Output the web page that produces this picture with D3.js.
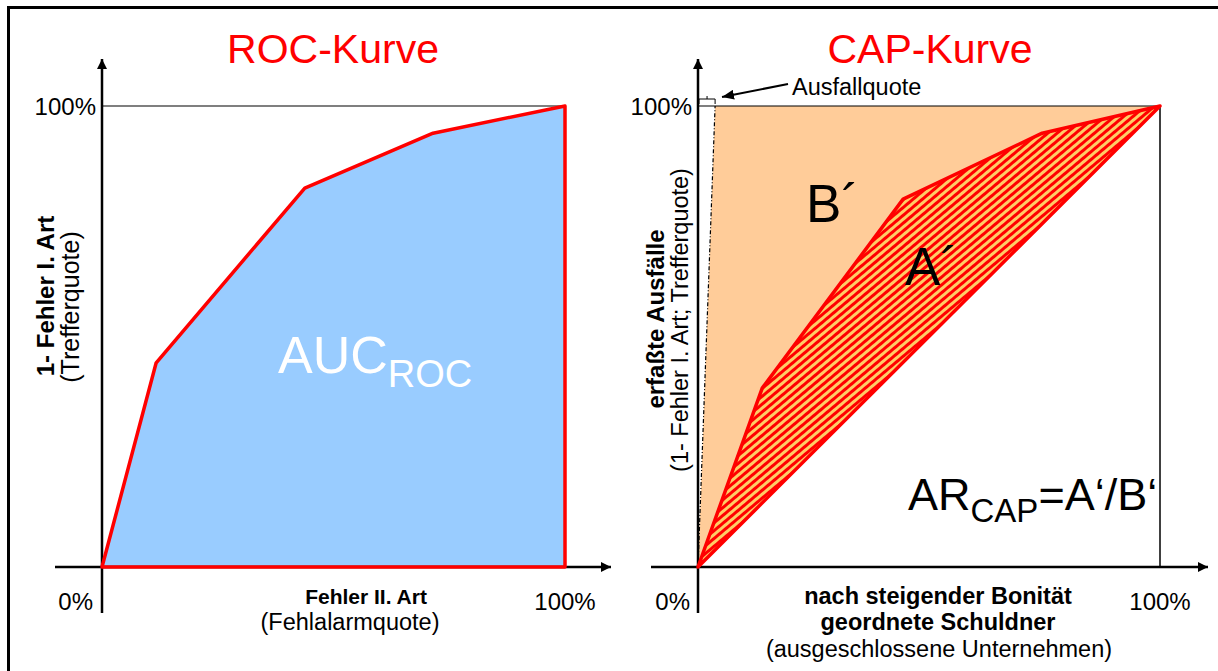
<!DOCTYPE html>
<html><head><meta charset="utf-8">
<script src="https://cdn.jsdelivr.net/npm/d3@7"></script>
<style>body{margin:0;background:#fff}svg{display:block;font-family:"Liberation Sans",Arial,sans-serif}</style>
</head><body><svg id="c" width="1218" height="671"></svg>
<script>
const rocX = [0, 0.117, 0.438, 0.715, 1];
const rocY = [0, 0.443, 0.822, 0.941, 1];
const capX = [0, 0.139, 0.444, 0.745, 1];
const capY = [0, 0.388, 0.798, 0.941, 1];
const defaultRate = 0.037;
const tickLabels = ["0%", "100%"];

const svg = d3.select("#c");
svg.append("rect").attr("x",8.5).attr("y",7.5).attr("width",1240).attr("height",700)
  .attr("fill","none").attr("stroke","#000").attr("stroke-width",3);

const defs = svg.append("defs");
const pat = defs.append("pattern").attr("id","hatch").attr("patternUnits","userSpaceOnUse")
  .attr("width",6).attr("height",6).attr("patternTransform","rotate(-40)");
pat.append("rect").attr("width",6).attr("height",6).attr("fill","#FFCC66");
pat.append("rect").attr("width",6).attr("height",3).attr("fill","#FF0000");
const mk = defs.append("marker").attr("id","arr").attr("viewBox","0 0 10 10").attr("refX",10).attr("refY",5)
  .attr("markerWidth",10).attr("markerHeight",10).attr("markerUnits","userSpaceOnUse").attr("orient","auto");
mk.append("path").attr("d","M0,0L10,5L0,10Z").attr("fill","#000");
const mk2 = defs.append("marker").attr("id","arrB").attr("viewBox","0 0 12 10").attr("refX",12).attr("refY",5)
  .attr("markerWidth",12).attr("markerHeight",10).attr("markerUnits","userSpaceOnUse").attr("orient","auto");
mk2.append("path").attr("d","M0,0L12,5L0,10Z").attr("fill","#000");

function panel(x0, x1, title, cx) {
  const x = d3.scaleLinear().domain([0,1]).range([x0, x1]);
  const y = d3.scaleLinear().domain([0,1]).range([567, 106]);
  svg.append("text").attr("x",cx).attr("y",63).attr("text-anchor","middle")
    .attr("font-size",41).attr("fill","#FF0000").text(title);
  return {x, y};
}

// ROC
const R = panel(102, 565, "ROC-Kurve", 333);
const rocPts = rocX.map((v,i)=>[R.x(v), R.y(rocY[i])]);
svg.append("line").attr("x1",R.x(0)).attr("x2",R.x(1)).attr("y1",R.y(1)).attr("y2",R.y(1)).attr("stroke","#000").attr("stroke-width",1.2);
svg.append("path").attr("d", d3.line()(rocPts.concat([[R.x(1),R.y(0)],[R.x(0),R.y(0)]]))+"Z")
  .attr("fill","#99CCFF").attr("stroke","none");
svg.append("line").attr("x1",55).attr("x2",611).attr("y1",R.y(0)).attr("y2",R.y(0)).attr("stroke","#000").attr("stroke-width",2.5).attr("marker-end","url(#arr)");
svg.append("line").attr("x1",R.x(0)).attr("x2",R.x(0)).attr("y1",613).attr("y2",59).attr("stroke","#000").attr("stroke-width",2.5).attr("marker-end","url(#arr)");
svg.append("path").attr("d", d3.line()(rocPts.concat([[R.x(1),R.y(0)],[R.x(0),R.y(0)]]))+"Z")
  .attr("fill","none").attr("stroke","#FF0000").attr("stroke-width",3.5).attr("stroke-linejoin","round");
svg.append("text").attr("x",96).attr("y",R.y(1)+9).attr("text-anchor","end").attr("font-size",24).text(tickLabels[1]);
svg.append("text").attr("x",93).attr("y",610).attr("text-anchor","end").attr("font-size",24).text(tickLabels[0]);
svg.append("text").attr("x",R.x(1)).attr("y",610).attr("text-anchor","middle").attr("font-size",24).text(tickLabels[1]);
svg.append("text").attr("x",366).attr("y",604).attr("text-anchor","middle").attr("font-size",21).attr("font-weight","bold").text("Fehler II. Art");
svg.append("text").attr("x",350).attr("y",630).attr("text-anchor","middle").attr("font-size",23.5).text("(Fehlalarmquote)");
svg.append("text").attr("transform","translate(54,296) rotate(-90)").attr("text-anchor","middle").attr("font-size",24).attr("font-weight","bold").text("1- Fehler I. Art");
svg.append("text").attr("transform","translate(79,307) rotate(-90)").attr("text-anchor","middle").attr("font-size",25).text("(Trefferquote)");
const auc = svg.append("text").attr("x",278).attr("y",373).attr("fill","#fff").attr("font-size",52);
auc.append("tspan").text("AUC");
auc.append("tspan").attr("font-size",38).attr("dy",14).text("ROC");

// CAP
const C = panel(698, 1160, "CAP-Kurve", 930);
const capPts = capX.map((v,i)=>[C.x(v), C.y(capY[i])]);
svg.append("path").attr("d", d3.line()([[C.x(0),C.y(0)],[C.x(defaultRate),C.y(1)],[C.x(1),C.y(1)]])+"Z")
  .attr("fill","#FFCC99");
svg.append("line").attr("x1",C.x(0)).attr("x2",C.x(1)).attr("y1",C.y(1)).attr("y2",C.y(1)).attr("stroke","#000").attr("stroke-width",1.2);
svg.append("line").attr("x1",C.x(1)).attr("x2",C.x(1)).attr("y1",C.y(1)).attr("y2",C.y(0)).attr("stroke","#000").attr("stroke-width",1.5);
svg.append("line").attr("x1",C.x(0)).attr("x2",C.x(defaultRate)).attr("y1",C.y(0)).attr("y2",C.y(1))
  .attr("stroke","#000").attr("stroke-width",1.2).attr("stroke-dasharray","4,2,1,2");
svg.append("path").attr("d", d3.line()(capPts)+"Z").attr("fill","url(#hatch)").attr("stroke","none");
svg.append("line").attr("x1",651).attr("x2",1208).attr("y1",C.y(0)).attr("y2",C.y(0)).attr("stroke","#000").attr("stroke-width",2.5).attr("marker-end","url(#arr)");
svg.append("line").attr("x1",C.x(0)).attr("x2",C.x(0)).attr("y1",613).attr("y2",59).attr("stroke","#000").attr("stroke-width",2.5).attr("marker-end","url(#arr)");
svg.append("path").attr("d", d3.line()(capPts)+"Z").attr("fill","none").attr("stroke","#FF0000").attr("stroke-width",3.5).attr("stroke-linejoin","round");
const bx0 = C.x(0)+1, bx1 = C.x(defaultRate);
svg.append("path").attr("d",`M${bx0},104V99H${(bx0+bx1)/2}V96M${(bx0+bx1)/2},99H${bx1}V104`).attr("fill","none").attr("stroke","#000").attr("stroke-width",1);
svg.append("line").attr("x1",788).attr("x2",722).attr("y1",84).attr("y2",97).attr("stroke","#000").attr("stroke-width",2).attr("marker-end","url(#arrB)");
svg.append("text").attr("x",792).attr("y",95).attr("font-size",23.5).text("Ausfallquote");
svg.append("text").attr("x",692).attr("y",C.y(1)+9).attr("text-anchor","end").attr("font-size",24).text(tickLabels[1]);
svg.append("text").attr("x",690).attr("y",610).attr("text-anchor","end").attr("font-size",24).text(tickLabels[0]);
svg.append("text").attr("x",C.x(1)).attr("y",610).attr("text-anchor","middle").attr("font-size",24).text(tickLabels[1]);
svg.append("text").attr("x",938).attr("y",604).attr("text-anchor","middle").attr("font-size",23.5).attr("font-weight","bold").text("nach steigender Bonität");
svg.append("text").attr("x",938).attr("y",630).attr("text-anchor","middle").attr("font-size",23.5).attr("font-weight","bold").text("geordnete Schuldner");
svg.append("text").attr("x",939).attr("y",657).attr("text-anchor","middle").attr("font-size",23.5).text("(ausgeschlossene Unternehmen)");
svg.append("text").attr("transform","translate(664,319) rotate(-90)").attr("text-anchor","middle").attr("font-size",24).attr("font-weight","bold").text("erfaßte Ausfälle");
svg.append("text").attr("transform","translate(688,320) rotate(-90)").attr("text-anchor","middle").attr("font-size",23.5).text("(1- Fehler I. Art; Trefferquote)");
svg.append("text").attr("x",806).attr("y",222).attr("font-size",53).text("B´");
svg.append("text").attr("x",905).attr("y",285).attr("font-size",53).text("A´");
const ar = svg.append("text").attr("x",908).attr("y",510).attr("font-size",45);
ar.append("tspan").text("AR");
ar.append("tspan").attr("font-size",33).attr("dy",12).text("CAP");
ar.append("tspan").attr("dy",-12).text("=A‘/B‘");
</script></body></html>
